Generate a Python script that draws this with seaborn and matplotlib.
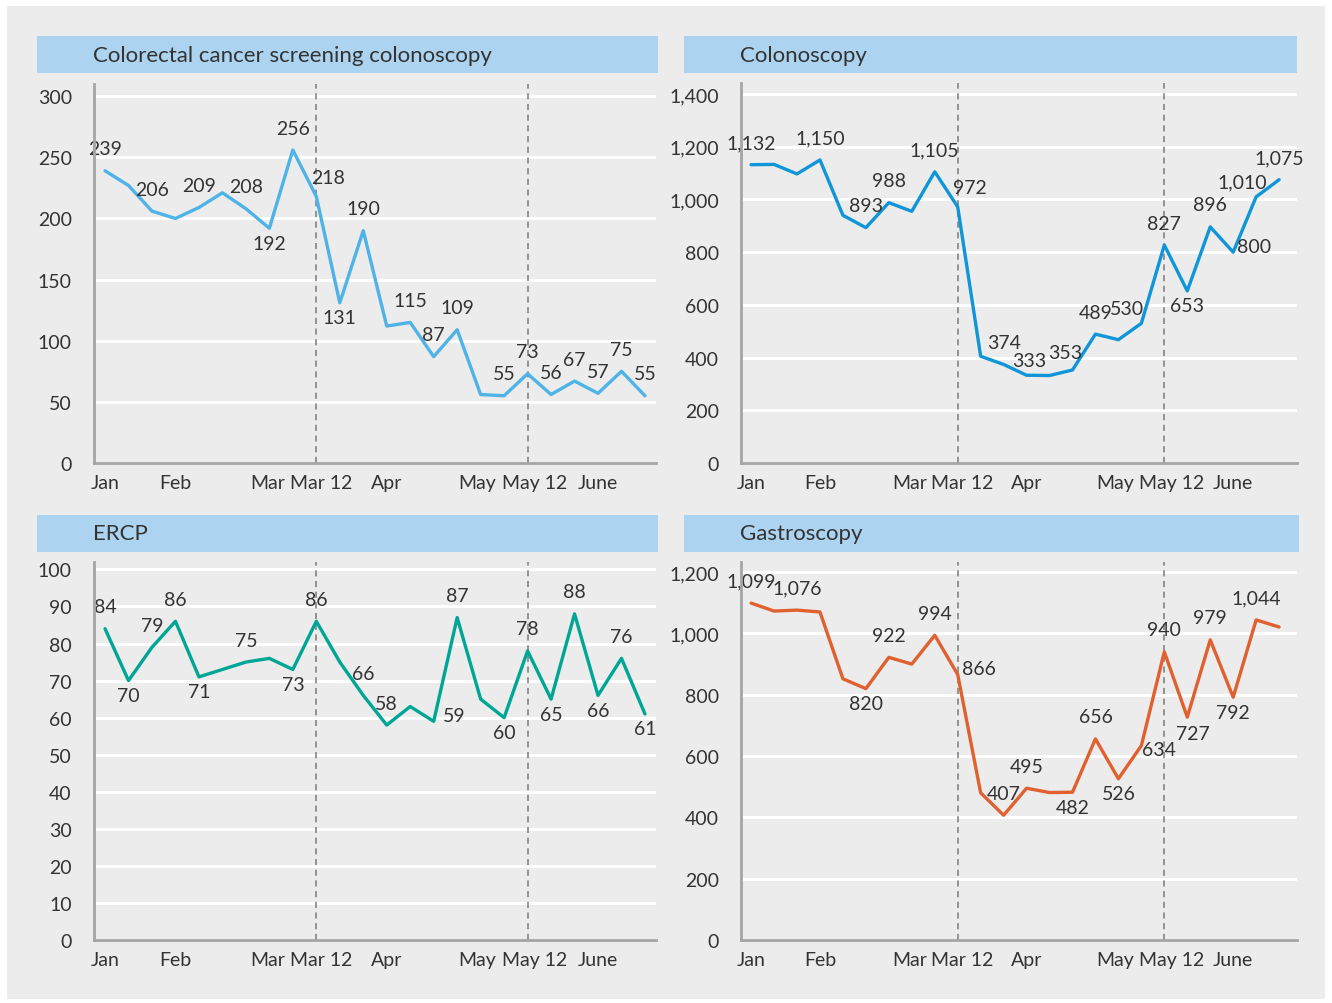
import matplotlib
matplotlib.use("Agg")
import matplotlib.pyplot as plt
import seaborn as sns
import pandas as pd
from matplotlib.patches import Rectangle
from matplotlib.ticker import MultipleLocator, StrMethodFormatter

# week index positions of the month ticks and the two cut-off dates
month_ticks = [0, 3, 6.92, 9.2, 12, 15.85, 18.3, 21]
month_labels = ["Jan", "Feb", "Mar", "Mar 12", "Apr", "May", "May 12", "June"]
cutoffs = [9, 18]

# weekly numbers, Jan - June
crc_screening = [239, 227, 206, 200, 209, 221, 208, 192, 256, 218, 131, 190,
                 112, 115, 87, 109, 56, 55, 73, 56, 67, 57, 75, 55]
colonoscopy = [1132, 1133, 1097, 1150, 940, 893, 988, 955, 1105, 972, 405, 374,
               333, 332, 353, 489, 468, 530, 827, 653, 896, 800, 1010, 1075]
ercp = [84, 70, 79, 86, 71, 73, 75, 76, 73, 86, 75, 66,
        58, 63, 59, 87, 65, 60, 78, 65, 88, 66, 76, 61]
gastroscopy = [1099, 1073, 1076, 1070, 852, 820, 922, 900, 994, 866, 480, 407,
               495, 481, 482, 656, 526, 634, 940, 727, 979, 792, 1044, 1021]

# which weeks carry a value label
crc_marked = [0, 2, 4, 6, 7, 8, 9, 10, 11, 13, 14, 15, 17, 18, 19, 20, 21, 22, 23]
colo_marked = [0, 3, 5, 6, 8, 9, 11, 12, 14, 15, 17, 18, 19, 20, 21, 22, 23]
ercp_marked = [0, 1, 2, 3, 4, 6, 8, 9, 11, 12, 14, 15, 17, 18, 19, 20, 21, 22, 23]
gastro_marked = [0, 2, 5, 6, 8, 9, 11, 12, 14, 15, 16, 17, 18, 19, 20, 21, 22]

# label placement (style only): a=above, b=below, r=right, ar/al=above right/left
crc_place = {7: "b", 9: "ar", 10: "b"}
colo_place = {9: "ar", 12: "lo", 14: "al2", 17: "al", 19: "b", 21: "r", 22: "al"}
ercp_place = {1: "b", 4: "b", 8: "b", 14: "r", 17: "b", 19: "b", 21: "b", 23: "b"}
gastro_place = {5: "b", 9: "r", 14: "b", 16: "b", 17: "rl", 19: "br", 21: "b"}
offsets = {"a": (0, 22), "b": (0, -15), "r": (21, 6), "ar": (12, 19),
           "al": (-14, 15), "al2": (-7, 17), "rl": (18, -4), "br": (6, -16),
           "lo": (3, 15)}

W, H = 1332, 1004
BG = "#ebeceb"
TXT = "#333333"
FS = 14

sns.set_style("white")
plt.rcParams["font.family"] = ["Lato", "DejaVu Sans"]

fig = plt.figure(figsize=(W / 100, H / 100), dpi=100)
fig.patch.set_facecolor("white")
fig.patches.append(Rectangle((7 / W, 1 - 1000 / H), 1318 / W, 993 / H,
                             transform=fig.transFigure, facecolor=BG,
                             edgecolor="none", zorder=-10))

panels = [
    ("Colorectal cancer screening colonoscopy", crc_screening, crc_marked, crc_place,
     "#4fb3e8", (0, 310), 50, (94, 656, 85, 464), (37, 658, 37, 74), (-0.47, 23.47)),
    ("Colonoscopy", colonoscopy, colo_marked, colo_place,
     "#0f95d8", (0, 1442), 200, (741, 1297, 84, 464), (684, 1297, 37, 74), (-0.44, 23.78)),
    ("ERCP", ercp, ercp_marked, ercp_place,
     "#00a695", (0, 102), 10, (94, 656, 563, 941), (37, 658, 516, 553), (-0.47, 23.47)),
    ("Gastroscopy", gastroscopy, gastro_marked, gastro_place,
     "#e0602f", (0, 1233), 200, (741, 1297, 563, 941), (684, 1299, 516, 553), (-0.44, 23.78)),
]

for title, values, marked, place, color, ylim, ystep, box, tbox, xlim in panels:
    x0, x1, y0, y1 = box
    ax = fig.add_axes([x0 / W, 1 - y1 / H, (x1 - x0) / W, (y1 - y0) / H])
    ax.set_facecolor(BG)

    df = pd.DataFrame({"week": range(len(values)), "n": values})
    sns.lineplot(data=df, x="week", y="n", ax=ax, color=color, linewidth=2.4, zorder=3)

    for c in cutoffs:
        ax.axvline(c, color="#7a7a7a", linestyle=(0, (4, 3)), linewidth=1.1, zorder=2)

    for i in marked:
        dx, dy = offsets[place.get(i, "a")]
        ax.annotate(f"{values[i]:,}", (i, values[i]), xytext=(dx, dy),
                    textcoords="offset pixels", ha="center", va="center",
                    fontsize=FS, color=TXT, zorder=4)

    ax.set_xlim(*xlim)
    ax.set_ylim(*ylim)
    ax.yaxis.set_major_locator(MultipleLocator(ystep))
    ax.yaxis.set_major_formatter(StrMethodFormatter("{x:,.0f}"))
    ax.set_xticks(month_ticks)
    ax.set_xticklabels(month_labels)
    ax.grid(axis="y", color="white", linewidth=2.2, zorder=1)
    ax.set_axisbelow(True)
    ax.set_xlabel("")
    ax.set_ylabel("")
    ax.tick_params(axis="both", length=0, labelsize=FS, colors=TXT)
    ax.tick_params(axis="y", pad=16)
    ax.tick_params(axis="x", pad=8)
    for s in ["top", "right"]:
        ax.spines[s].set_visible(False)
    for s in ["left", "bottom"]:
        ax.spines[s].set_color("#a5a5a5")
        ax.spines[s].set_linewidth(2)
        ax.spines[s].set_zorder(5)

    tx0, tx1, ty0, ty1 = tbox
    fig.patches.append(Rectangle((tx0 / W, 1 - ty1 / H), (tx1 - tx0) / W, (ty1 - ty0) / H,
                                 transform=fig.transFigure, facecolor="#acd4f0",
                                 edgecolor="none", zorder=1))
    fig.text((x0 - 1) / W, 1 - (ty0 + ty1) / 2 / H, title, ha="left", va="center",
             fontsize=16, color=TXT)

fig.savefig("out.png", dpi=100, facecolor="white")
